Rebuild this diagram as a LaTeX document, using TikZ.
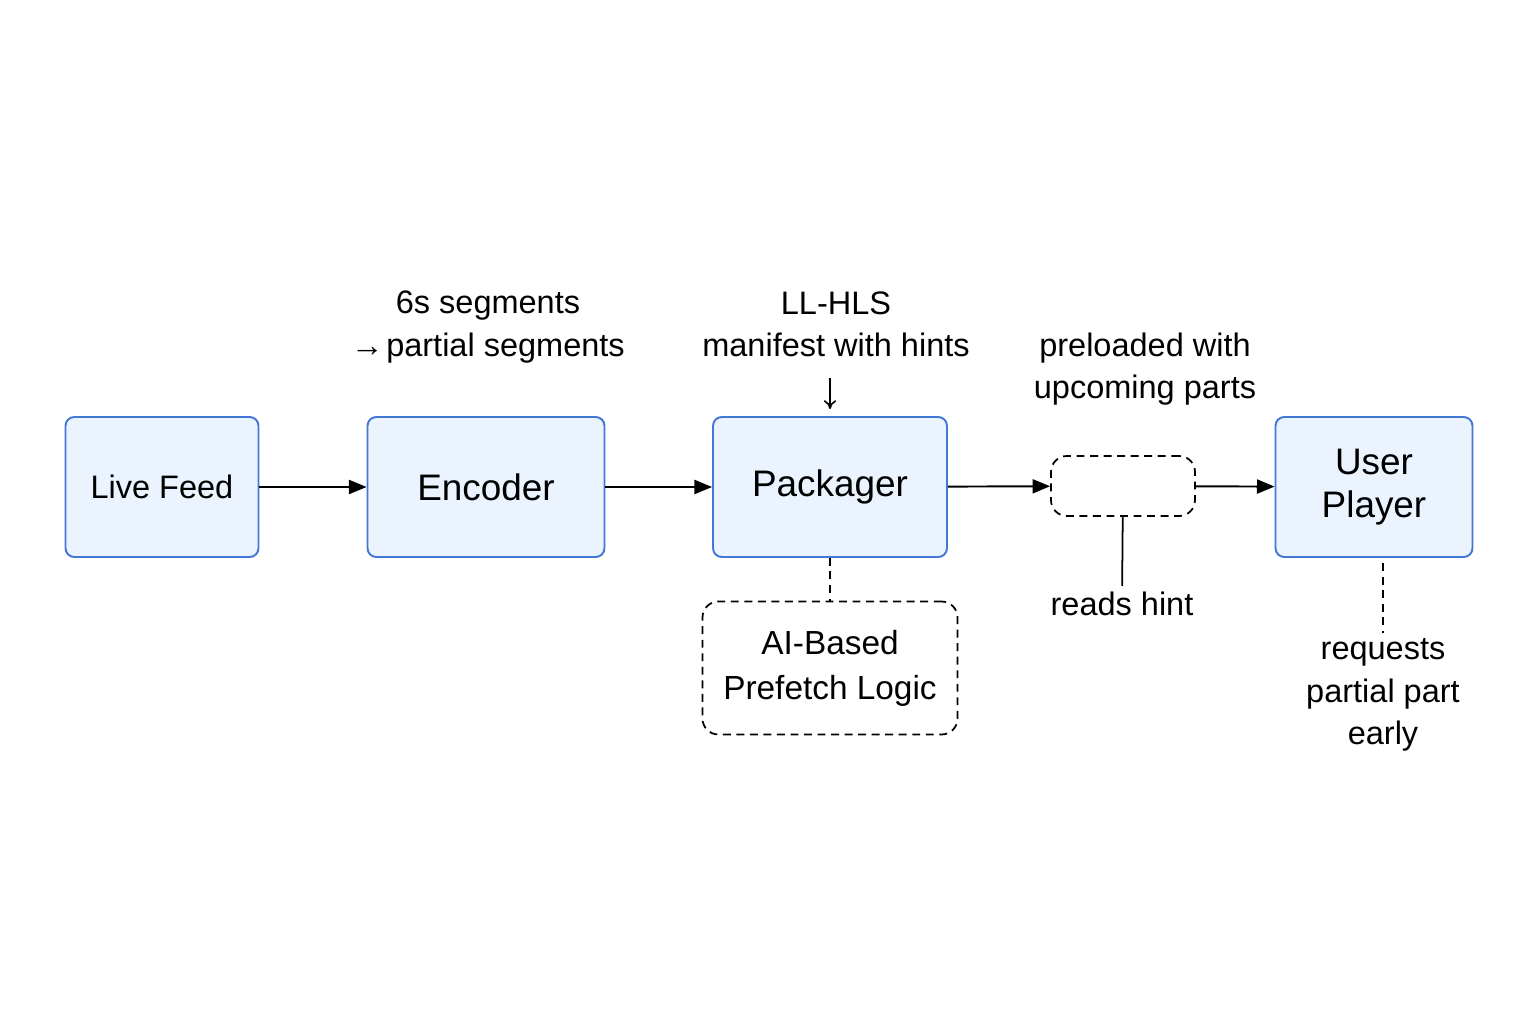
\documentclass[tikz,border=0pt]{standalone}
\usepackage{fontspec}
\setmainfont{Liberation Sans}
\usetikzlibrary{arrows.meta}
\definecolor{boxblue}{RGB}{68,120,214}
\definecolor{boxfill}{RGB}{234,243,254}
\begin{document}
\begin{tikzpicture}[x=0.02cm,y=-0.02cm,
  box/.style={draw=boxblue, fill=boxfill, line width=1.1pt, rounded corners=5pt,
    align=center, minimum height=2.8cm, font=\fontsize{21}{24.5}\selectfont},
  dbox/.style={draw, line width=1pt, dash pattern=on 4.5pt off 3.2pt, rounded corners=9pt,
    align=center, font=\fontsize{19}{25.5}\selectfont},
  lbl/.style={align=center, font=\fontsize{18.5}{24}\selectfont},
  arr/.style={draw, line width=1.1pt, -{Triangle[length=10pt,width=8pt]}},
  dline/.style={draw, line width=1pt, dash pattern=on 4.5pt off 3.2pt}]
\useasboundingbox (0,0) rectangle (1536,1024);

\node[box, minimum width=3.86cm, font=\fontsize{18.5}{22}\selectfont] (feed) at (162,487) {Live Feed};
\node[box, minimum width=4.74cm] (enc) at (486,487) {Encoder};
\node[box, minimum width=4.68cm] (pack) at (830,487) {Packager};
\node[dbox, minimum width=2.88cm, minimum height=1.2cm] (slot) at (1123,486) {};
\node[box, minimum width=3.94cm] (player) at (1374,487) {User\\Player};
\node[dbox, minimum width=5.1cm, minimum height=2.66cm] (ai) at (830,668) {AI-Based\\Prefetch Logic};

\node[lbl] (seg) at (488,327) {6s segments\\→\hspace{-0.2em} partial segments};
\node[lbl] (hls) at (836,324) {LL-HLS\\manifest with hints};
\node[lbl] (pre) at (1145,369) {preloaded with\\upcoming parts};
\node[lbl] (hint) at (1122,604) {reads hint};
\node[lbl] (req) at (1383,695) {requests\\partial part\\early};
\coordinate (down) at (830,378);

\path[arr] (feed) -- (enc);
\path[arr] (enc) -- (pack);
\path[arr] (pack) -- (slot);
\path[arr] (slot) -- (player);
\path[draw, line width=0.9pt, -{To[length=5pt,width=7pt]}, shorten >=4pt] (down) -- (pack.north);
\path[dline] (pack) -- (ai);
\path[draw, line width=1pt] (slot) -- (hint);
\path[dline, shorten <=3pt] (req.north |- player.south) -- (req.north);
\end{tikzpicture}
\end{document}
